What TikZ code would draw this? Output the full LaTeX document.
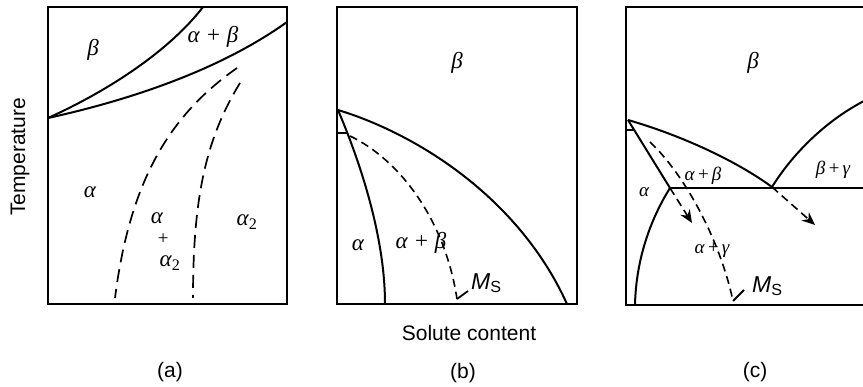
\RequirePackage{fix-cm}
\documentclass[tikz,border=0pt]{standalone}
\usepackage{fontspec}
\setmainfont{Liberation Sans}
\newfontfamily\grk{Liberation Serif}
\newcommand{\gr}[1]{{\grk\itshape #1}}
\newcommand{\pl}{\hspace{0.12em}+\hspace{0.12em}}
\usetikzlibrary{arrows.meta}
\tikzset{
  bnd/.style={line width=2pt},
  frm/.style={line width=1.7pt},
  dsh/.style={line width=1.7pt, dash pattern=on 13pt off 7pt},
  dshs/.style={line width=1.6pt, dash pattern=on 8pt off 5pt},
  lbl/.style={inner sep=0pt, font=\fontsize{23}{27}\selectfont},
  lblc/.style={inner sep=0pt, font=\fontsize{19}{22}\selectfont},
  capt/.style={inner sep=0pt, font=\fontsize{21}{25}\selectfont},
  arr/.style={dshs, -{Stealth[length=13pt,width=11pt]}},
  hook/.style={line width=1.8pt}
}
\begin{document}
\begin{tikzpicture}[x=1pt,y=-1pt]
\useasboundingbox (0,0) rectangle (863,387);
\clip (0,0) rectangle (863,387);
% ---------- panel (a)
\draw[frm] (48,7) rectangle (287,304);
\coordinate (aP) at (48,118);
\coordinate (aT) at (203,7);
\coordinate (aR) at (287,22);
\coordinate (aD1s) at (237,68);
\coordinate (aD1e) at (115,298);
\coordinate (aD2s) at (240,83);
\coordinate (aD2e) at (193,298);
\draw[bnd] (aP) .. controls (110,90) and (170,50) .. (aT);
\draw[bnd] (aP) .. controls (130,100) and (220,70) .. (aR);
\draw[dsh] (aD1s) .. controls (170,115) and (130,180) .. (aD1e);
\draw[dsh] (aD2s) .. controls (205,140) and (193,200) .. (aD2e);
\node[lbl] (a1) at (93,50) {\gr{β}};
\node[lbl] (a2) at (213,37) {\gr{α + β}};
\node[lbl] (a3) at (90,192) {\gr{α}};
\node[lbl] (a4) at (157,218) {\gr{α}};
\node[lblc] (a5) at (163,239) {\gr{+}};
\node[lbl] (a6) at (170,263) {\gr{α}\textsubscript{\grk 2}};
\node[lbl] (a7) at (247,222) {\gr{α}\textsubscript{\grk 2}};
% ---------- panel (b)
\draw[frm] (337,7) rectangle (577,304);
\coordinate (bP) at (338,110);
\coordinate (bO) at (567,304);
\coordinate (bI) at (385,304);
\coordinate (bD) at (350,136);
\coordinate (bE) at (457,299);
\coordinate (bH) at (468,291);
\coordinate (bt1) at (337,133);
\coordinate (bt2) at (347,133);
\draw[bnd] (bP) .. controls (420,135) and (520,200) .. (bO);
\draw[bnd] (bP) .. controls (355,150) and (385,230) .. (bI);
\draw[frm] (bt1) -- (bt2);
\draw[dshs] (bD) .. controls (400,160) and (445,220) .. (bE);
\draw[hook] (bE) -- (bH);
\node[lbl] (b1) at (457,63) {\gr{β}};
\node[lbl] (b2) at (358,245) {\gr{α}};
\node[lbl] (b3) at (421,243) {\gr{α + β}};
\node[lbl, anchor=west] (b4) at (471,283) {\textit{M}\textsubscript{S}};
% ---------- panel (c)
\draw[frm] (626,7) rectangle (866,305);
\coordinate (cP) at (628,120);
\coordinate (cE) at (772,187);
\coordinate (cC) at (670,188);
\coordinate (cB) at (635,305);
\coordinate (cR) at (866,100);
\coordinate (cH) at (866,188);
\coordinate (cD) at (650,142);
\coordinate (cM) at (733,301);
\coordinate (cK) at (744,290);
\coordinate (cA1) at (692,223);
\coordinate (cA2) at (815,225);
\coordinate (ct1) at (626,130);
\coordinate (ct2) at (634,130);
\draw[bnd] (cP) .. controls (680,135) and (735,160) .. (cE);
\draw[bnd] (cP) -- (cC);
\draw[bnd] (cC) -- (cH);
\draw[bnd] (cC) .. controls (650,220) and (636,260) .. (cB);
\draw[bnd] (cE) .. controls (795,150) and (830,118) .. (cR);
\draw[frm] (ct1) -- (ct2);
\draw[dshs] (cD) .. controls (685,175) and (720,240) .. (cM);
\draw[hook] (cM) -- (cK);
\draw[arr] (cC) -- (cA1);
\draw[arr] (cE) -- (cA2);
\node[lbl] (c1) at (753,63) {\gr{β}};
\node[lblc] (c2) at (644,192) {\gr{α}};
\node[lblc] (c3) at (703,176) {\gr{α\pl β}};
\node[lblc] (c4) at (833,170) {\gr{β\pl γ}};
\node[lblc] (c5) at (712,250) {\gr{α\pl γ}};
\node[lbl, anchor=west] (c6) at (752,286) {\textit{M}\textsubscript{S}};
% ---------- captions
\node[capt, rotate=90] (temp) at (20,157) {Temperature};
\node[capt] (sol) at (469,333) {Solute content};
\node[capt] (la) at (170,372) {(a)};
\node[capt] (lb) at (463,373) {(b)};
\node[capt] (lc) at (755,372) {(c)};
\end{tikzpicture}
\end{document}
